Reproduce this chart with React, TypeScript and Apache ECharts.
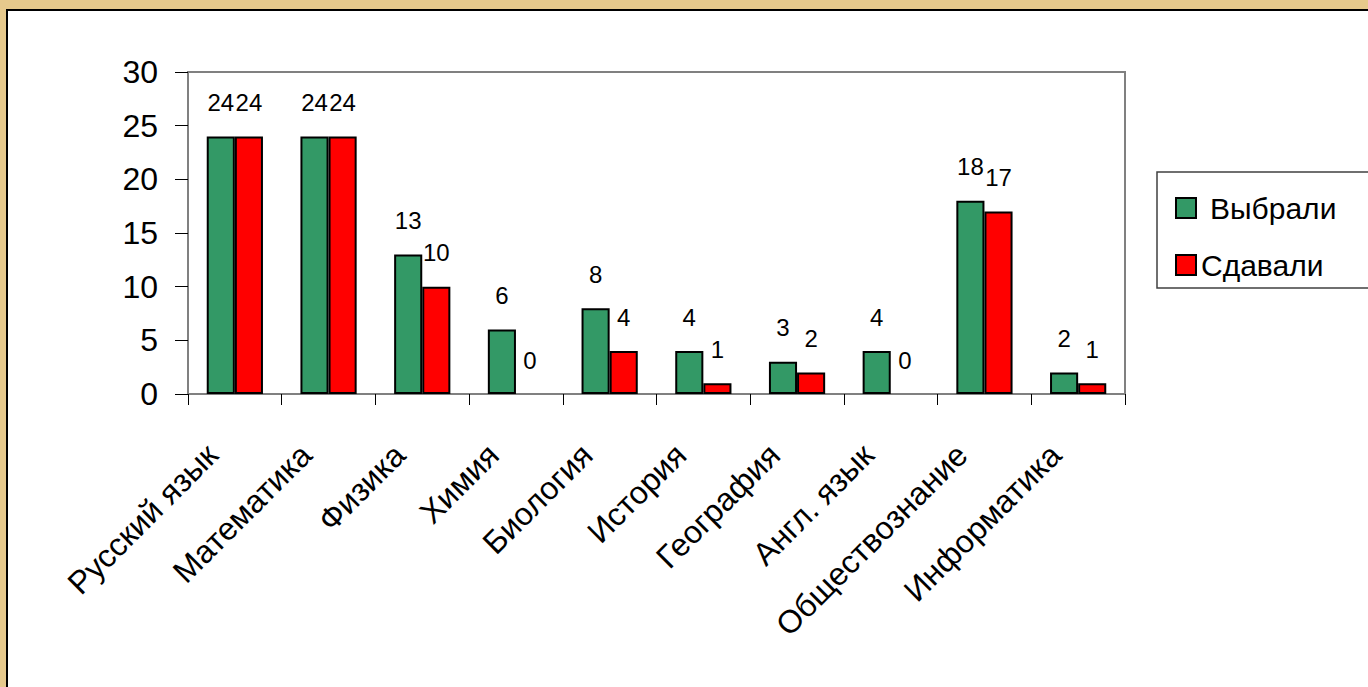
import React, { useEffect, useRef } from "react";
import * as echarts from "echarts";

const categories = [
  "Русский язык",
  "Математика",
  "Физика",
  "Химия",
  "Биология",
  "История",
  "География",
  "Англ. язык",
  "Обществознание",
  "Информатика",
];
const chosen = [24, 24, 13, 6, 8, 4, 3, 4, 18, 2];
const taken = [24, 24, 10, 0, 4, 1, 2, 0, 17, 1];
const seriesNames = ["Выбрали", "Сдавали"];
const yTicks = { min: 0, max: 30, interval: 5 };

const FONT = "'Liberation Sans', Arial, sans-serif";

export default function App() {
  const ref = useRef<HTMLDivElement>(null);
  useEffect(() => {
    if (!ref.current) return;
    const chart = echarts.init(ref.current, null, { renderer: "svg" });
    const label = {
      show: true,
      position: "top",
      distance: 22,
      fontSize: 24,
      color: "#000",
      fontFamily: FONT,
    };
    const toItems = (arr: number[]) =>
      arr.map((v) => (v === 0 ? { value: v, itemStyle: { borderWidth: 0 } } : v));
    chart.setOption({
      animation: false,
      backgroundColor: "#e6c98c",
      textStyle: { fontFamily: FONT },
      graphic: [
        {
          type: "rect",
          z: -10,
          shape: { x: 7, y: 10, width: 1400, height: 700 },
          style: { fill: "#fff", stroke: "#000", lineWidth: 2 },
        },
        {
          type: "rect",
          z: -5,
          shape: { x: 1157, y: 172, width: 240, height: 116 },
          style: { fill: "#fff", stroke: "#404040", lineWidth: 1.5 },
        },
      ],
      grid: {
        left: 188,
        top: 72,
        right: 243,
        bottom: 293,
        show: true,
        borderColor: "#808080",
        borderWidth: 2,
        backgroundColor: "transparent",
      },
      legend: {
        orient: "vertical",
        left: 1170,
        top: 186,
        itemWidth: 20,
        itemHeight: 20,
        itemGap: 23,
        itemTextGap: 13,
        icon: "rect",
        data: seriesNames,
        formatter: (name: string) =>
          name === seriesNames[0] ? "{a|" + name + "}" : "{b|" + name + "}",
        textStyle: {
          fontSize: 30,
          lineHeight: 34,
          color: "#000",
          fontFamily: FONT,
          rich: {
            a: { fontSize: 30, lineHeight: 34, padding: [0, 0, 0, 9], fontFamily: FONT },
            b: { fontSize: 30, lineHeight: 34, fontFamily: FONT },
          },
        },
      },
      xAxis: {
        type: "category",
        data: categories,
        axisLine: { lineStyle: { color: "#808080", width: 2 } },
        axisTick: { show: true, length: 11, lineStyle: { color: "#000", width: 1 } },
        axisLabel: {
          interval: 0,
          rotate: 45,
          fontSize: 32,
          margin: 33,
          padding: [0, 32, 0, 0],
          color: "#000",
          fontFamily: FONT,
        },
      },
      yAxis: {
        type: "value",
        min: yTicks.min,
        max: yTicks.max,
        interval: yTicks.interval,
        axisLine: { show: true, lineStyle: { color: "#808080", width: 2 } },
        axisTick: { show: true, length: 13, lineStyle: { color: "#000", width: 1 } },
        splitLine: { show: false },
        axisLabel: { fontSize: 32, margin: 30, color: "#000", fontFamily: FONT },
      },
      series: [
        {
          name: seriesNames[0],
          type: "bar",
          data: toItems(chosen),
          barWidth: "30%",
          barGap: "0%",
          itemStyle: { color: "#339966", borderColor: "#000", borderWidth: 2 },
          label,
        },
        {
          name: seriesNames[1],
          type: "bar",
          data: toItems(taken),
          barWidth: "30%",
          itemStyle: { color: "#ff0000", borderColor: "#000", borderWidth: 2 },
          label,
        },
      ],
    });
    return () => chart.dispose();
  }, []);
  return (
    <div
      ref={ref}
      style={{ position: "absolute", left: 0, top: 0, width: 1368, height: 687 }}
    />
  );
}
